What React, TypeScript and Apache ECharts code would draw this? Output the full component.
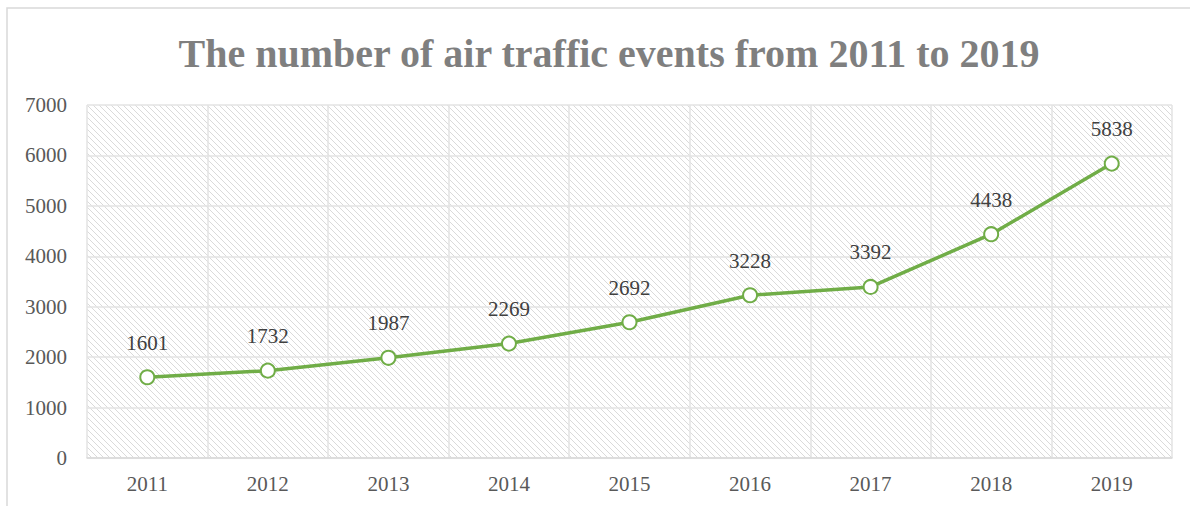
import React, { useEffect, useRef } from "react";
import * as echarts from "echarts";

const years = ["2011", "2012", "2013", "2014", "2015", "2016", "2017", "2018", "2019"];
const events = [1601, 1732, 1987, 2269, 2692, 3228, 3392, 4438, 5838];
const yTicks = { min: 0, max: 7000, interval: 1000 };
const titleText = "The number of air traffic events from 2011 to 2019";

function makeHatch(): HTMLCanvasElement {
  const s = 6;
  const c = document.createElement("canvas");
  c.width = s;
  c.height = s;
  const ctx = c.getContext("2d")!;
  ctx.fillStyle = "#ffffff";
  ctx.fillRect(0, 0, s, s);
  ctx.strokeStyle = "#dadada";
  ctx.lineWidth = 1;
  ctx.beginPath();
  ctx.moveTo(-1, -1);
  ctx.lineTo(s + 1, s + 1);
  ctx.moveTo(-1, s - 1);
  ctx.lineTo(1, s + 1);
  ctx.moveTo(s - 1, -1);
  ctx.lineTo(s + 1, 1);
  ctx.stroke();
  return c;
}

export default function App() {
  const ref = useRef<HTMLDivElement>(null);
  useEffect(() => {
    if (!ref.current) return;
    const chart = echarts.init(ref.current, undefined, { renderer: "svg" });
    const hatch = makeHatch();
    const serif = "'Liberation Serif', 'Times New Roman', serif";
    chart.setOption({
      animation: false,
      backgroundColor: "#ffffff",
      title: {
        text: titleText,
        left: 604,
        textAlign: "center",
        top: 28,
        textStyle: {
          fontFamily: serif,
          fontWeight: "bold",
          fontSize: 40,
          color: "#7f7f7f",
        },
      },
      graphic: [
        {
          type: "rect",
          shape: { x: 7, y: 8, width: 1300, height: 600 },
          style: { fill: "none", stroke: "#d9d9d9", lineWidth: 1.5 },
          silent: true,
          z: -10,
        },
      ],
      grid: {
        left: 87,
        right: 18,
        top: 105,
        bottom: 48,
        show: true,
        borderWidth: 0,
        backgroundColor: {
          image: hatch,
          repeat: "repeat",
          imageWidth: 6,
          imageHeight: 6,
        } as any,
      },
      xAxis: {
        type: "category",
        data: years,
        boundaryGap: true,
        axisLine: { show: true, lineStyle: { color: "#d9d9d9", width: 1.5 } },
        axisTick: { show: false },
        axisLabel: { fontFamily: serif, fontSize: 21, color: "#595959", margin: 15 },
        splitLine: { show: true, lineStyle: { color: "#e3e3e3", width: 1.5 } },
      },
      yAxis: {
        type: "value",
        min: yTicks.min,
        max: yTicks.max,
        interval: yTicks.interval,
        axisLine: { show: false },
        axisTick: { show: false },
        axisLabel: {
          fontFamily: serif,
          fontSize: 21,
          color: "#595959",
          margin: 20,
          formatter: (v: number) => String(v),
        },
        splitLine: { show: true, lineStyle: { color: "#e3e3e3", width: 1.5 } },
      },
      series: [
        {
          type: "line",
          data: events,
          symbol: "emptyCircle",
          symbolSize: 14,
          lineStyle: { color: "#70ad47", width: 3.5 },
          itemStyle: { color: "#70ad47", borderColor: "#70ad47", borderWidth: 3 },
          label: {
            show: true,
            position: "top",
            distance: 16,
            fontFamily: serif,
            fontSize: 21,
            color: "#404040",
          },
        },
      ],
    });
    return () => chart.dispose();
  }, []);
  return (
    <div
      ref={ref}
      style={{ position: "fixed", left: 0, top: 0, width: 1190, height: 506 }}
    />
  );
}
